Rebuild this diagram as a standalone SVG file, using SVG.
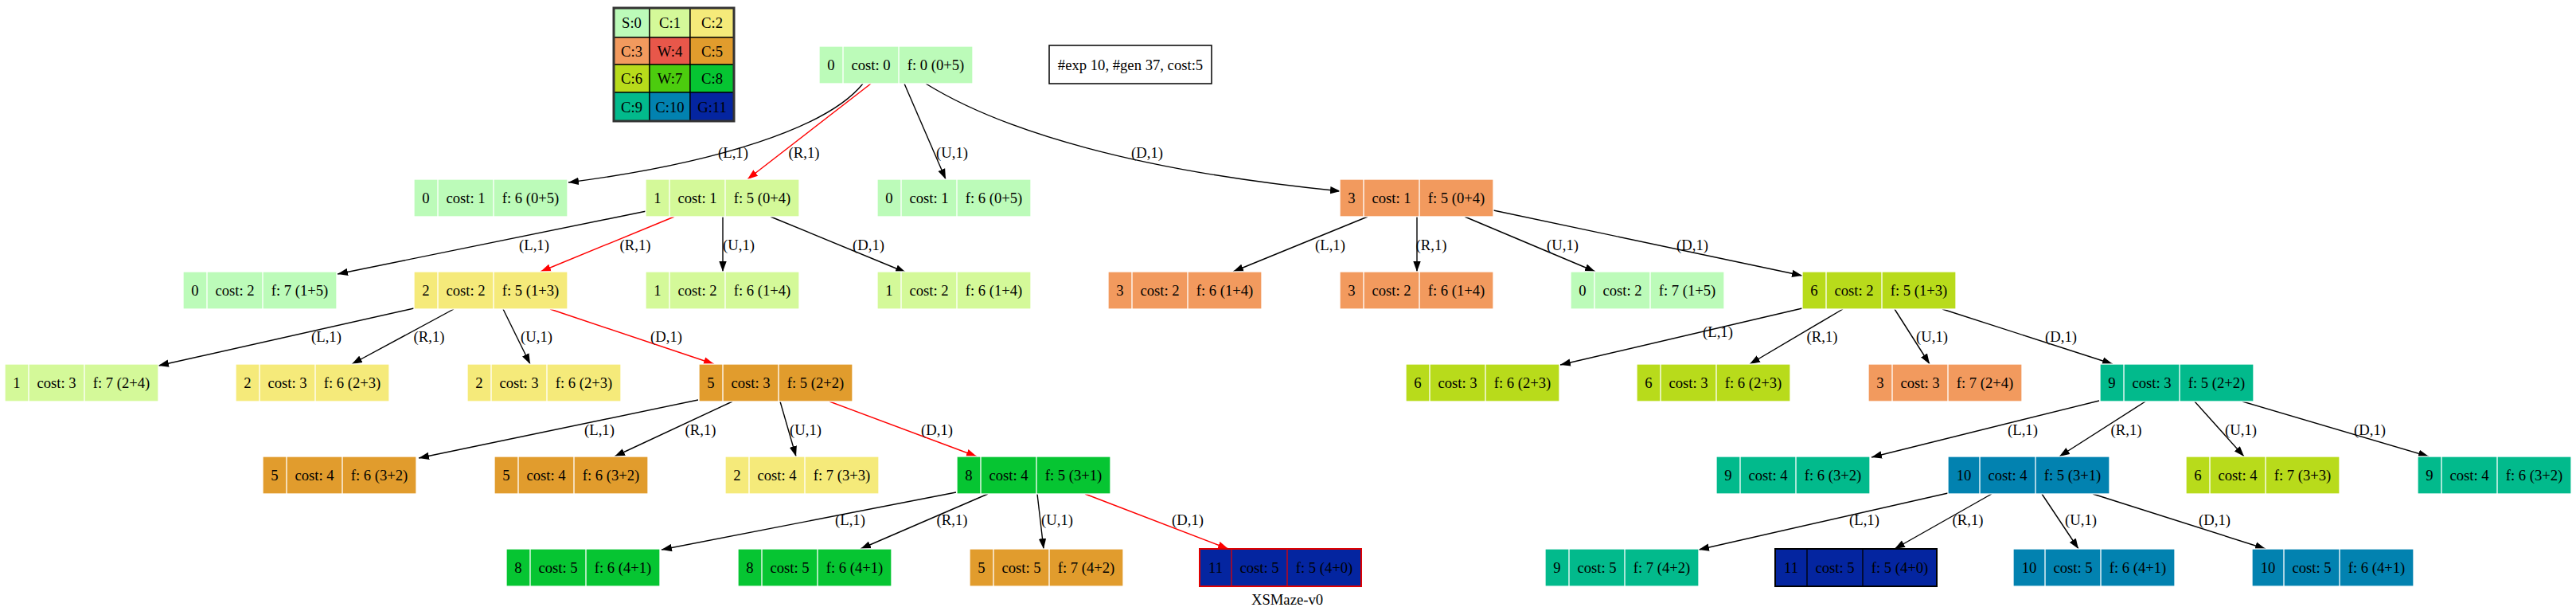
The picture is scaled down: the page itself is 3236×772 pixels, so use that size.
<svg xmlns="http://www.w3.org/2000/svg" width="3236" height="772" viewBox="0 0 3236 772">
<style>
text{font-family:"Liberation Serif","Times New Roman",serif;font-size:18.67px;fill:#000;text-anchor:middle}
.node rect{stroke:#fff;stroke-width:1.3}
.node path{stroke:#fff;stroke-width:1.3;fill:none}
.gr rect{stroke:#e00000;stroke-width:2}
.gr path{stroke:#e00000;stroke-width:1.3}
.gb rect{stroke:#000;stroke-width:2}
.gb path{stroke:#000;stroke-width:1.3}
.c0{fill:#bcfbb9}.c1{fill:#d4f999}.c2{fill:#f5ea7a}.c3{fill:#f29a5e}
.c4{fill:#e8574a}.c5{fill:#e19c2d}.c6{fill:#b8db1b}.c7{fill:#4ccc0e}
.c8{fill:#06c532}.c9{fill:#02ba8c}.c10{fill:#0282b0}.c11{fill:#0425a0}
.e path{fill:none;stroke:#000;stroke-width:1.4;marker-end:url(#ab)}
.e path.r{stroke:#ff0000;marker-end:url(#ar)}
#legend rect{stroke:#000;stroke-width:1.3}
</style>
<defs>
<marker id="ab" viewBox="0 0 13 10" refX="13" refY="5" markerWidth="13" markerHeight="10" markerUnits="userSpaceOnUse" orient="auto"><path d="M0,0.3L13,5L0,9.7z" fill="#000"/></marker>
<marker id="ar" viewBox="0 0 13 10" refX="13" refY="5" markerWidth="13" markerHeight="10" markerUnits="userSpaceOnUse" orient="auto"><path d="M0,0.3L13,5L0,9.7z" fill="#ff0000"/></marker>
</defs>
<rect x="0" y="0" width="3236" height="772" fill="#fff"/>

<g id="legend">
<rect class="c0" x="771" y="10" width="45" height="37"/><rect class="c1" x="816" y="10" width="51" height="37"/><rect class="c2" x="867" y="10" width="55" height="37"/>
<rect class="c3" x="771" y="47" width="45" height="34"/><rect class="c4" x="816" y="47" width="51" height="34"/><rect class="c5" x="867" y="47" width="55" height="34"/>
<rect class="c6" x="771" y="81" width="45" height="35"/><rect class="c7" x="816" y="81" width="51" height="35"/><rect class="c8" x="867" y="81" width="55" height="35"/>
<rect class="c9" x="771" y="116" width="45" height="36"/><rect class="c10" x="816" y="116" width="51" height="36"/><rect class="c11" x="867" y="116" width="55" height="36"/>
<rect x="771" y="10" width="151" height="142" fill="none" style="stroke:#333;stroke-width:3"/>
<text x="793.5" y="35">S:0</text><text x="841.5" y="35">C:1</text><text x="894.5" y="35">C:2</text>
<text x="793.5" y="70.5">C:3</text><text x="841.5" y="70.5">W:4</text><text x="894.5" y="70.5">C:5</text>
<text x="793.5" y="105">C:6</text><text x="841.5" y="105">W:7</text><text x="894.5" y="105">C:8</text>
<text x="793.5" y="140.5">C:9</text><text x="841.5" y="140.5">C:10</text><text x="894.5" y="140.5">G:11</text>
</g>

<g id="info">
<rect x="1318" y="57" width="204" height="48" fill="#fff" stroke="#000" stroke-width="1.5"/>
<text x="1420" y="87.5">#exp 10, #gen 37, cost:5</text>
</g>

<g id="edges" class="e">
<path d="M1084,105C1040,160 900,205 714,229"/>
<path class="r" d="M1094,105L939,225"/>
<path d="M1136,105L1188,225"/>
<path d="M1163,105C1260,165 1430,215 1684,240"/>
<path d="M812,265L424,344"/>
<path class="r" d="M847,272L679,341"/>
<path d="M908,272L908,341"/>
<path d="M968,272L1138,342"/>
<path d="M1718,272L1549,341"/>
<path d="M1780,272L1780,341"/>
<path d="M1840,272L2004,341"/>
<path d="M1876,264L2264,346"/>
<path d="M520,387L199,459"/>
<path d="M570,388L442,457"/>
<path d="M632,388L666,457"/>
<path class="r" d="M691,388L897,457"/>
<path d="M2264,387L1960,458"/>
<path d="M2315,388L2198,457"/>
<path d="M2380,388L2424,457"/>
<path d="M2440,388L2654,457"/>
<path d="M877,502L526,575"/>
<path d="M920,504L772,573"/>
<path d="M980,504L1000,573"/>
<path class="r" d="M1042,504L1227,573"/>
<path d="M2637,503L2351,574"/>
<path d="M2695,504L2587,573"/>
<path d="M2757,504L2819,573"/>
<path d="M2817,504L3051,573"/>
<path d="M1201,618L831,690"/>
<path d="M1241,620L1081,689"/>
<path d="M1303,620L1311,689"/>
<path class="r" d="M1363,620L1543,689"/>
<path d="M2447,619L2134,690"/>
<path d="M2502,620L2380,689"/>
<path d="M2565,620L2611,689"/>
<path d="M2629,620L2846,689"/>
<text x="921" y="198">(L,1)</text><text x="1010" y="198">(R,1)</text><text x="1196" y="198">(U,1)</text><text x="1441" y="198">(D,1)</text>
<text x="671" y="314">(L,1)</text><text x="798" y="314">(R,1)</text><text x="928" y="314">(U,1)</text><text x="1091" y="314">(D,1)</text>
<text x="1671" y="314">(L,1)</text><text x="1798" y="314">(R,1)</text><text x="1963" y="314">(U,1)</text><text x="2126" y="314">(D,1)</text>
<text x="410" y="429">(L,1)</text><text x="539" y="429">(R,1)</text><text x="674" y="429">(U,1)</text><text x="837" y="429">(D,1)</text>
<text x="2158" y="423">(L,1)</text><text x="2289" y="429">(R,1)</text><text x="2427" y="429">(U,1)</text><text x="2589" y="429">(D,1)</text>
<text x="753" y="546">(L,1)</text><text x="880" y="546">(R,1)</text><text x="1012" y="546">(U,1)</text><text x="1177" y="546">(D,1)</text>
<text x="2541" y="546">(L,1)</text><text x="2671" y="546">(R,1)</text><text x="2815" y="546">(U,1)</text><text x="2977" y="546">(D,1)</text>
<text x="1068" y="659">(L,1)</text><text x="1196" y="659">(R,1)</text><text x="1328" y="659">(U,1)</text><text x="1492" y="659">(D,1)</text>
<text x="2342" y="659">(L,1)</text><text x="2472" y="659">(R,1)</text><text x="2614" y="659">(U,1)</text><text x="2782" y="659">(D,1)</text>
</g>

<g id="n0" class="node"><rect class="c0" x="1029" y="58" width="193" height="47"/><path d="M1059,58v47M1129,58v47"/><text x="1044" y="87.5">0</text><text x="1094" y="87.5">cost: 0</text><text x="1175.5" y="87.5">f: 0 (0+5)</text></g>

<g id="n1" class="node"><rect class="c0" x="520" y="225" width="193" height="47"/><path d="M550,225v47M620,225v47"/><text x="535" y="254.5">0</text><text x="585" y="254.5">cost: 1</text><text x="666.5" y="254.5">f: 6 (0+5)</text></g>
<g id="n2" class="node"><rect class="c1" x="811" y="225" width="193" height="47"/><path d="M841,225v47M911,225v47"/><text x="826" y="254.5">1</text><text x="876" y="254.5">cost: 1</text><text x="957.5" y="254.5">f: 5 (0+4)</text></g>
<g id="n3" class="node"><rect class="c0" x="1102" y="225" width="193" height="47"/><path d="M1132,225v47M1202,225v47"/><text x="1117" y="254.5">0</text><text x="1167" y="254.5">cost: 1</text><text x="1248.5" y="254.5">f: 6 (0+5)</text></g>
<g id="n4" class="node"><rect class="c3" x="1683" y="225" width="193" height="47"/><path d="M1713,225v47M1783,225v47"/><text x="1698" y="254.5">3</text><text x="1748" y="254.5">cost: 1</text><text x="1829.5" y="254.5">f: 5 (0+4)</text></g>

<g id="n5" class="node"><rect class="c0" x="230" y="341" width="193" height="47"/><path d="M260,341v47M330,341v47"/><text x="245" y="370.5">0</text><text x="295" y="370.5">cost: 2</text><text x="376.5" y="370.5">f: 7 (1+5)</text></g>
<g id="n6" class="node"><rect class="c2" x="520" y="341" width="193" height="47"/><path d="M550,341v47M620,341v47"/><text x="535" y="370.5">2</text><text x="585" y="370.5">cost: 2</text><text x="666.5" y="370.5">f: 5 (1+3)</text></g>
<g id="n7" class="node"><rect class="c1" x="811" y="341" width="193" height="47"/><path d="M841,341v47M911,341v47"/><text x="826" y="370.5">1</text><text x="876" y="370.5">cost: 2</text><text x="957.5" y="370.5">f: 6 (1+4)</text></g>
<g id="n8" class="node"><rect class="c1" x="1102" y="341" width="193" height="47"/><path d="M1132,341v47M1202,341v47"/><text x="1117" y="370.5">1</text><text x="1167" y="370.5">cost: 2</text><text x="1248.5" y="370.5">f: 6 (1+4)</text></g>
<g id="n9" class="node"><rect class="c3" x="1392" y="341" width="193" height="47"/><path d="M1422,341v47M1492,341v47"/><text x="1407" y="370.5">3</text><text x="1457" y="370.5">cost: 2</text><text x="1538.5" y="370.5">f: 6 (1+4)</text></g>
<g id="n10" class="node"><rect class="c3" x="1683" y="341" width="193" height="47"/><path d="M1713,341v47M1783,341v47"/><text x="1698" y="370.5">3</text><text x="1748" y="370.5">cost: 2</text><text x="1829.5" y="370.5">f: 6 (1+4)</text></g>
<g id="n11" class="node"><rect class="c0" x="1973" y="341" width="193" height="47"/><path d="M2003,341v47M2073,341v47"/><text x="1988" y="370.5">0</text><text x="2038" y="370.5">cost: 2</text><text x="2119.5" y="370.5">f: 7 (1+5)</text></g>
<g id="n12" class="node"><rect class="c6" x="2264" y="341" width="193" height="47"/><path d="M2294,341v47M2364,341v47"/><text x="2279" y="370.5">6</text><text x="2329" y="370.5">cost: 2</text><text x="2410.5" y="370.5">f: 5 (1+3)</text></g>

<g id="n13" class="node"><rect class="c1" x="6" y="457" width="193" height="47"/><path d="M36,457v47M106,457v47"/><text x="21" y="486.5">1</text><text x="71" y="486.5">cost: 3</text><text x="152.5" y="486.5">f: 7 (2+4)</text></g>
<g id="n14" class="node"><rect class="c2" x="296" y="457" width="193" height="47"/><path d="M326,457v47M396,457v47"/><text x="311" y="486.5">2</text><text x="361" y="486.5">cost: 3</text><text x="442.5" y="486.5">f: 6 (2+3)</text></g>
<g id="n15" class="node"><rect class="c2" x="587" y="457" width="193" height="47"/><path d="M617,457v47M687,457v47"/><text x="602" y="486.5">2</text><text x="652" y="486.5">cost: 3</text><text x="733.5" y="486.5">f: 6 (2+3)</text></g>
<g id="n16" class="node"><rect class="c5" x="878" y="457" width="193" height="47"/><path d="M908,457v47M978,457v47"/><text x="893" y="486.5">5</text><text x="943" y="486.5">cost: 3</text><text x="1024.5" y="486.5">f: 5 (2+2)</text></g>
<g id="n17" class="node"><rect class="c6" x="1766" y="457" width="193" height="47"/><path d="M1796,457v47M1866,457v47"/><text x="1781" y="486.5">6</text><text x="1831" y="486.5">cost: 3</text><text x="1912.5" y="486.5">f: 6 (2+3)</text></g>
<g id="n18" class="node"><rect class="c6" x="2056" y="457" width="193" height="47"/><path d="M2086,457v47M2156,457v47"/><text x="2071" y="486.5">6</text><text x="2121" y="486.5">cost: 3</text><text x="2202.5" y="486.5">f: 6 (2+3)</text></g>
<g id="n19" class="node"><rect class="c3" x="2347" y="457" width="193" height="47"/><path d="M2377,457v47M2447,457v47"/><text x="2362" y="486.5">3</text><text x="2412" y="486.5">cost: 3</text><text x="2493.5" y="486.5">f: 7 (2+4)</text></g>
<g id="n20" class="node"><rect class="c9" x="2638" y="457" width="193" height="47"/><path d="M2668,457v47M2738,457v47"/><text x="2653" y="486.5">9</text><text x="2703" y="486.5">cost: 3</text><text x="2784.5" y="486.5">f: 5 (2+2)</text></g>

<g id="n21" class="node"><rect class="c5" x="330" y="573" width="193" height="47"/><path d="M360,573v47M430,573v47"/><text x="345" y="602.5">5</text><text x="395" y="602.5">cost: 4</text><text x="476.5" y="602.5">f: 6 (3+2)</text></g>
<g id="n22" class="node"><rect class="c5" x="621" y="573" width="193" height="47"/><path d="M651,573v47M721,573v47"/><text x="636" y="602.5">5</text><text x="686" y="602.5">cost: 4</text><text x="767.5" y="602.5">f: 6 (3+2)</text></g>
<g id="n23" class="node"><rect class="c2" x="911" y="573" width="193" height="47"/><path d="M941,573v47M1011,573v47"/><text x="926" y="602.5">2</text><text x="976" y="602.5">cost: 4</text><text x="1057.5" y="602.5">f: 7 (3+3)</text></g>
<g id="n24" class="node"><rect class="c8" x="1202" y="573" width="193" height="47"/><path d="M1232,573v47M1302,573v47"/><text x="1217" y="602.5">8</text><text x="1267" y="602.5">cost: 4</text><text x="1348.5" y="602.5">f: 5 (3+1)</text></g>
<g id="n25" class="node"><rect class="c9" x="2156" y="573" width="193" height="47"/><path d="M2186,573v47M2256,573v47"/><text x="2171" y="602.5">9</text><text x="2221" y="602.5">cost: 4</text><text x="2302.5" y="602.5">f: 6 (3+2)</text></g>
<g id="n26" class="node"><rect class="c10" x="2447" y="573" width="203" height="47"/><path d="M2487,573v47M2557,573v47"/><text x="2467" y="602.5">10</text><text x="2522" y="602.5">cost: 4</text><text x="2603.5" y="602.5">f: 5 (3+1)</text></g>
<g id="n27" class="node"><rect class="c6" x="2746" y="573" width="193" height="47"/><path d="M2776,573v47M2846,573v47"/><text x="2761" y="602.5">6</text><text x="2811" y="602.5">cost: 4</text><text x="2892.5" y="602.5">f: 7 (3+3)</text></g>
<g id="n28" class="node"><rect class="c9" x="3037" y="573" width="193" height="47"/><path d="M3067,573v47M3137,573v47"/><text x="3052" y="602.5">9</text><text x="3102" y="602.5">cost: 4</text><text x="3183.5" y="602.5">f: 6 (3+2)</text></g>

<g id="n29" class="node"><rect class="c8" x="636" y="689" width="193" height="47"/><path d="M666,689v47M736,689v47"/><text x="651" y="718.5">8</text><text x="701" y="718.5">cost: 5</text><text x="782.5" y="718.5">f: 6 (4+1)</text></g>
<g id="n30" class="node"><rect class="c8" x="927" y="689" width="193" height="47"/><path d="M957,689v47M1027,689v47"/><text x="942" y="718.5">8</text><text x="992" y="718.5">cost: 5</text><text x="1073.5" y="718.5">f: 6 (4+1)</text></g>
<g id="n31" class="node"><rect class="c5" x="1218" y="689" width="193" height="47"/><path d="M1248,689v47M1318,689v47"/><text x="1233" y="718.5">5</text><text x="1283" y="718.5">cost: 5</text><text x="1364.5" y="718.5">f: 7 (4+2)</text></g>
<g id="n32" class="node gr"><rect class="c11" x="1507" y="689" width="203" height="47"/><path d="M1547,689v47M1617,689v47"/><text x="1527" y="718.5">11</text><text x="1582" y="718.5">cost: 5</text><text x="1663.5" y="718.5">f: 5 (4+0)</text></g>
<g id="n33" class="node"><rect class="c9" x="1941" y="689" width="193" height="47"/><path d="M1971,689v47M2041,689v47"/><text x="1956" y="718.5">9</text><text x="2006" y="718.5">cost: 5</text><text x="2087.5" y="718.5">f: 7 (4+2)</text></g>
<g id="n34" class="node gb"><rect class="c11" x="2230" y="689" width="203" height="47"/><path d="M2270,689v47M2340,689v47"/><text x="2250" y="718.5">11</text><text x="2305" y="718.5">cost: 5</text><text x="2386.5" y="718.5">f: 5 (4+0)</text></g>
<g id="n35" class="node"><rect class="c10" x="2529" y="689" width="203" height="47"/><path d="M2569,689v47M2639,689v47"/><text x="2549" y="718.5">10</text><text x="2604" y="718.5">cost: 5</text><text x="2685.5" y="718.5">f: 6 (4+1)</text></g>
<g id="n36" class="node"><rect class="c10" x="2829" y="689" width="203" height="47"/><path d="M2869,689v47M2939,689v47"/><text x="2849" y="718.5">10</text><text x="2904" y="718.5">cost: 5</text><text x="2985.5" y="718.5">f: 6 (4+1)</text></g>

<text x="1617" y="759">XSMaze-v0</text>
</svg>
